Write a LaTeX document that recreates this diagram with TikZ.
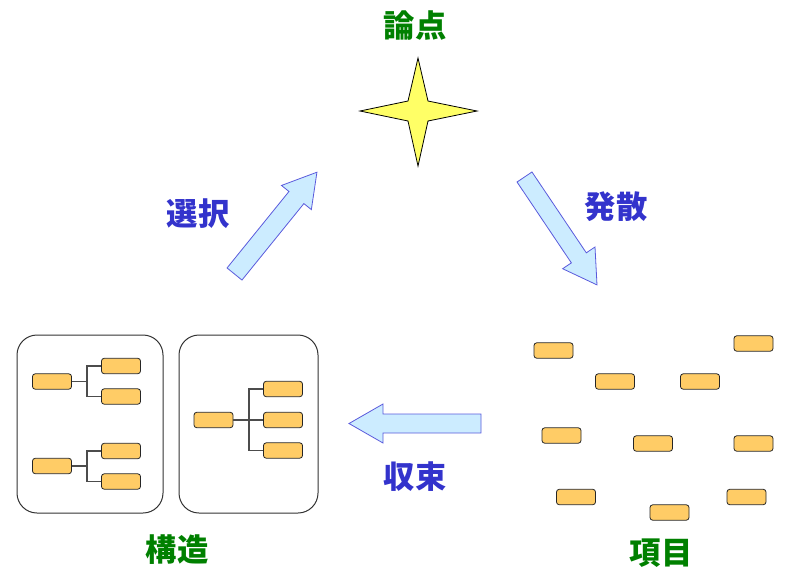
\documentclass[tikz,border=0pt]{standalone}
\usepackage{fontspec}
\newfontfamily\cjk{Noto Sans CJK JP}
\definecolor{lblgreen}{RGB}{0,128,0}
\definecolor{lblblue}{RGB}{51,51,204}
\definecolor{arrowfill}{RGB}{204,236,255}
\definecolor{arrowline}{RGB}{90,90,220}
\definecolor{itemfill}{RGB}{255,204,102}
\definecolor{starfill}{RGB}{255,255,102}
\begin{document}
\begin{tikzpicture}[x=0.75pt,y=-0.75pt,
  item/.style={draw=black!85, fill=itemfill, rounded corners=2pt,
    minimum width=29.25pt, minimum height=11.5pt, inner sep=0pt, line width=0.6pt},
  group/.style={draw=black!80, rounded corners=15pt, line width=0.75pt,
    minimum height=133.5pt, inner sep=0pt},
  treeline/.style={draw=black!70, line width=0.9pt},
  barrow/.style={draw=arrowline, fill=arrowfill, line width=0.6pt, line join=miter},
  glabel/.style={text=lblgreen, font=\cjk\bfseries\fontsize{23.5}{23.5}\selectfont, inner sep=0pt},
  blabel/.style={text=lblblue, font=\cjk\bfseries\fontsize{23.5}{23.5}\selectfont, inner sep=0pt}]
\useasboundingbox (0,0) rectangle (799,576);

% star
\coordinate (star) at (418,111);
\draw[fill=starfill, draw=black, line width=0.6pt, shift={(star)}]
  (0,-53) -- (10,-10) -- (59,0) -- (10,10) -- (0,55) -- (-10,10) -- (-58,0) -- (-10,-10) -- cycle;

% labels
\node[glabel] (ronten) at (415,26) {論点};
\node[blabel] (sentaku) at (198,214) {選択};
\node[blabel] (hassan) at (616,207) {発散};
\node[blabel] (shusoku) at (415,477) {収束};
\node[glabel] (kozo) at (177,550) {構造};
\node[glabel] (komoku) at (661,553) {項目};

% block arrows
\draw[barrow, shift={(234.5,274)}, rotate=51]
  (0,-9.6) -- (98.4,-9.6) -- (98.4,-19.2) -- (131,0) -- (98.4,19.2) -- (98.4,9.6) -- (0,9.6) -- cycle;
\draw[barrow, shift={(524.5,177)}, rotate=-56.1]
  (0,-9) -- (97.4,-9) -- (97.4,-19.5) -- (130,0) -- (97.4,19.5) -- (97.4,9) -- (0,9) -- cycle;
\draw[barrow, shift={(481,423.5)}, rotate=180]
  (0,-9.5) -- (98,-9.5) -- (98,-19.5) -- (132,0) -- (98,19.5) -- (98,9.5) -- (0,9.5) -- cycle;

% structure groups
\node[group, minimum width=109.5pt] (gL) at (90,424) {};
\node[group, minimum width=104.25pt] (gR) at (248.5,424) {};

% left group trees
\node[item] (r1) at (52,381.5) {};
\node[item] (c1a) at (121,366) {};
\node[item] (c1b) at (121,396.5) {};
\node[item] (r2) at (52,466) {};
\node[item] (c2a) at (121,451) {};
\node[item] (c2b) at (121,481.5) {};
\coordinate (j1) at (87,381.5);
\coordinate (j2) at (87,466);
\draw[treeline] (r1.east) -- (j1);
\draw[treeline] (c1a.west) -| (j1);
\draw[treeline] (c1b.west) -| (j1);
\draw[treeline] (r2.east) -- (j2);
\draw[treeline] (c2a.west) -| (j2);
\draw[treeline] (c2b.west) -| (j2);

% right group tree
\node[item] (r3) at (213.5,420) {};
\node[item] (c3a) at (283,389) {};
\node[item] (c3b) at (283,420) {};
\node[item] (c3c) at (283,450.5) {};
\coordinate (j3) at (249,420);
\draw[treeline] (r3.east) -- (c3b.west);
\draw[treeline] (c3a.west) -| (j3);
\draw[treeline] (c3c.west) -| (j3);

% scattered items
\node[item] (i1) at (553.5,350.5) {};
\node[item] (i2) at (753.5,343.5) {};
\node[item] (i3) at (615,381.5) {};
\node[item] (i4) at (700,381.5) {};
\node[item] (i5) at (561.5,435.5) {};
\node[item] (i6) at (653,443.5) {};
\node[item] (i7) at (753.5,443.5) {};
\node[item] (i8) at (576,497) {};
\node[item] (i9) at (669.5,512.5) {};
\node[item] (i10) at (746.5,497) {};
\end{tikzpicture}
\end{document}
